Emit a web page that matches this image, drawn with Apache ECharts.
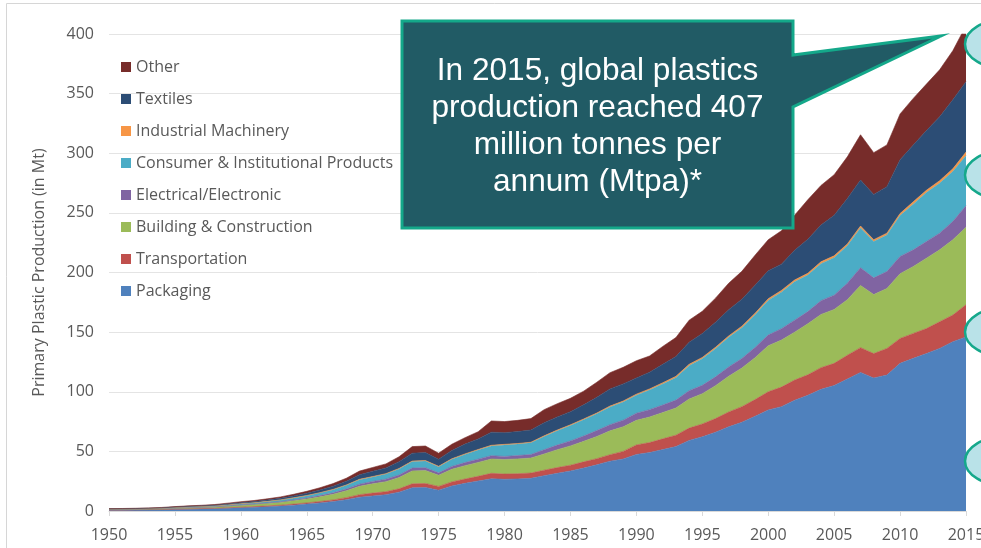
<!DOCTYPE html>
<html>
<head>
<meta charset="utf-8">
<script src="https://cdn.jsdelivr.net/npm/echarts@6/dist/echarts.min.js"></script>
<style>
  html, body { margin: 0; padding: 0; background: #ffffff; }
  #chart { width: 981px; height: 548px; }
</style>
</head>
<body>
<div id="chart"></div>
<script>
// Primary plastic production by industrial use sector, 1950-2015 (Mt)
const years = [
  '1950','1951','1952','1953','1954','1955','1956','1957','1958','1959',
  '1960','1961','1962','1963','1964','1965','1966','1967','1968','1969',
  '1970','1971','1972','1973','1974','1975','1976','1977','1978','1979',
  '1980','1981','1982','1983','1984','1985','1986','1987','1988','1989',
  '1990','1991','1992','1993','1994','1995','1996','1997','1998','1999',
  '2000','2001','2002','2003','2004','2005','2006','2007','2008','2009',
  '2010','2011','2012','2013','2014','2015'
];

const packaging = [
  0.7, 0.7, 0.8, 0.9, 1.0, 1.3, 1.5, 1.7, 1.9, 2.3,
  2.7, 3.1, 3.6, 4.1, 4.9, 5.8, 6.8, 7.9, 9.5, 11.6,
  12.6, 13.7, 15.8, 19.5, 19.7, 17.5, 21.0, 23.2, 25.2, 27.0,
  26.6, 26.9, 27.4, 29.6, 31.6, 33.6, 36.0, 38.7, 41.8, 43.6,
  47.4, 49.0, 51.5, 54.0, 59.2, 62.2, 66.0, 70.6, 74.4, 79.4,
  84.7, 87.5, 92.8, 97.0, 102.0, 105.2, 110.6, 116.2, 111.5, 114.0,
  123.8, 128.0, 132.0, 136.3, 141.9, 146.0
];

const transportation = [
  0.1, 0.1, 0.1, 0.2, 0.2, 0.2, 0.3, 0.3, 0.3, 0.4,
  0.5, 0.6, 0.7, 0.8, 0.9, 1.0, 1.2, 1.4, 1.7, 2.1,
  2.4, 2.5, 2.8, 3.3, 3.4, 3.1, 3.4, 3.6, 3.9, 4.6,
  4.4, 4.4, 4.4, 4.6, 4.8, 4.8, 5.2, 5.2, 5.4, 6.4,
  8.0, 8.4, 9.0, 9.6, 10.3, 10.8, 11.5, 12.4, 13.1, 14.0,
  15.3, 16.4, 17.0, 17.2, 18.2, 18.6, 20.0, 20.8, 20.5, 22.3,
  20.9, 20.9, 21.0, 22.4, 22.4, 27.0
];

const building = [
  0.4, 0.4, 0.4, 0.5, 0.5, 0.7, 0.8, 0.9, 1.0, 1.2,
  1.5, 1.7, 2.0, 2.3, 2.8, 3.3, 3.9, 4.8, 5.8, 7.0,
  7.8, 8.4, 9.4, 10.8, 10.8, 9.4, 10.6, 11.2, 11.6, 12.0,
  12.2, 12.4, 12.6, 13.6, 15.0, 16.2, 17.2, 18.6, 20.0, 20.6,
  20.6, 21.4, 22.0, 22.8, 24.4, 25.4, 27.6, 30.0, 32.4, 35.2,
  38.6, 39.4, 40.2, 42.8, 44.6, 45.2, 46.6, 52.2, 49.5, 50.3,
  54.3, 56.1, 59.0, 60.3, 63.1, 65.0
];

const electrical = [
  0.1, 0.1, 0.1, 0.1, 0.1, 0.2, 0.2, 0.2, 0.3, 0.3,
  0.4, 0.4, 0.5, 0.6, 0.7, 0.8, 1.0, 1.1, 1.4, 1.8,
  2.0, 2.1, 2.2, 2.4, 2.4, 2.0, 2.4, 2.6, 2.8, 2.8,
  2.6, 2.8, 3.0, 3.6, 3.9, 4.2, 4.5, 5.0, 5.2, 5.6,
  6.0, 6.2, 6.4, 6.6, 7.0, 7.0, 7.4, 7.8, 8.0, 8.5,
  9.0, 9.6, 10.0, 10.2, 11.6, 12.0, 13.8, 14.8, 14.0, 14.2,
  14.5, 14.0, 14.0, 14.0, 15.4, 18.0
];

const consumer = [
  0.25, 0.28, 0.32, 0.32, 0.42, 0.46, 0.53, 0.6, 0.67, 0.85,
  0.95, 1.05, 1.2, 1.4, 1.65, 1.95, 2.3, 2.7, 3.2, 3.8,
  3.8, 4.3, 5.1, 5.5, 5.6, 5.1, 6.0, 6.8, 7.6, 8.2,
  9.6, 9.6, 9.8, 11.0, 12.0, 12.8, 13.6, 14.0, 14.8, 15.2,
  15.0, 16.4, 17.6, 18.8, 21.0, 22.3, 23.6, 24.8, 25.8, 27.4,
  29.0, 30.6, 32.2, 30.6, 31.0, 31.4, 31.4, 33.4, 30.4, 30.6,
  34.2, 38.3, 41.0, 41.8, 41.8, 42.0
];

const industrial = [
  0.02, 0.02, 0.02, 0.02, 0.03, 0.04, 0.04, 0.05, 0.05, 0.06,
  0.07, 0.08, 0.09, 0.1, 0.12, 0.14, 0.17, 0.2, 0.23, 0.28,
  0.3, 0.33, 0.4, 0.4, 0.4, 0.4, 0.4, 0.5, 0.5, 0.5,
  0.5, 0.5, 0.5, 0.6, 0.6, 0.7, 0.7, 0.7, 0.8, 0.8,
  1.0, 1.0, 1.0, 1.1, 1.1, 1.1, 1.2, 1.2, 1.3, 1.3,
  1.4, 1.5, 1.5, 1.5, 1.6, 1.6, 1.6, 1.6, 1.6, 1.6,
  1.8, 2.0, 2.0, 2.2, 2.4, 3.0
];

const textiles = [
  0.23, 0.26, 0.3, 0.3, 0.4, 0.44, 0.5, 0.57, 0.64, 0.8,
  0.9, 1.0, 1.14, 1.35, 1.6, 1.9, 2.25, 2.7, 3.1, 3.8,
  4.4, 4.8, 5.7, 6.6, 6.7, 6.0, 7.0, 8.2, 8.8, 11.0,
  9.8, 10.0, 10.2, 11.0, 11.0, 11.0, 11.8, 13.1, 14.4, 14.4,
  13.5, 14.0, 15.5, 16.6, 18.5, 20.0, 21.0, 22.0, 22.6, 23.5,
  23.5, 22.0, 25.0, 28.5, 30.8, 34.0, 38.0, 38.6, 38.0, 39.0,
  45.1, 47.6, 50.0, 53.6, 57.8, 59.0
];

const other = [
  0.2, 0.24, 0.26, 0.26, 0.35, 0.36, 0.43, 0.48, 0.54, 0.69,
  0.78, 0.87, 0.97, 1.15, 1.33, 1.61, 1.88, 2.2, 2.57, 3.12,
  3.2, 3.37, 4.1, 5.5, 5.5, 5.0, 5.2, 5.4, 6.1, 9.4,
  9.3, 9.4, 9.6, 11.0, 11.1, 11.2, 11.5, 12.7, 13.6, 13.9,
  14.5, 13.6, 15.0, 16.0, 18.5, 18.7, 20.2, 22.2, 23.4, 25.2,
  26.0, 28.0, 29.3, 33.2, 33.2, 34.0, 35.0, 37.9, 35.0, 35.0,
  38.4, 39.1, 39.0, 39.4, 41.2, 47.0
];

const yTicks = { min: 0, max: 400, step: 50 };

// Bottom layer first; the legend lists them top-down.
const sectors = [
  { name: 'Packaging', data: packaging, color: '#4F81BD' },
  { name: 'Transportation', data: transportation, color: '#C0504D' },
  { name: 'Building & Construction', data: building, color: '#9BBB59' },
  { name: 'Electrical/Electronic', data: electrical, color: '#8064A2' },
  { name: 'Consumer & Institutional Products', data: consumer, color: '#4BACC6' },
  { name: 'Industrial Machinery', data: industrial, color: '#F79646' },
  { name: 'Textiles', data: textiles, color: '#2C4D75' },
  { name: 'Other', data: other, color: '#772C2A' }
];

const textGrey = '#595959';
const uiFont = 'Open Sans';

const chart = echarts.init(document.getElementById('chart'), null, { renderer: 'canvas' });

chart.setOption({
  animation: false,
  backgroundColor: '#ffffff',
  grid: { left: 109, right: 15, top: 34, bottom: 37, containLabel: false, outerBoundsMode: 'none' },
  legend: {
    orient: 'vertical',
    left: 121,
    top: 59,
    padding: 0,
    icon: 'rect',
    itemWidth: 10,
    itemHeight: 10,
    itemGap: 16,
    itemStyle: { borderWidth: 0 },
    selectedMode: false,
    textStyle: { color: textGrey, fontFamily: uiFont, fontSize: 16, lineHeight: 16 },
    data: sectors.map(s => s.name).reverse()
  },
  xAxis: {
    type: 'category',
    data: years,
    boundaryGap: false,
    axisLine: { lineStyle: { color: '#d9d9d9', width: 1 } },
    axisTick: { show: true, interval: 4, length: 5, lineStyle: { color: '#d9d9d9' } },
    axisLabel: { interval: 4, color: textGrey, fontFamily: uiFont, fontSize: 16, margin: 16, hideOverlap: false },
    splitLine: { show: false }
  },
  yAxis: {
    type: 'value',
    min: yTicks.min,
    max: yTicks.max,
    interval: yTicks.step,
    name: 'Primary Plastic Production (in Mt)',
    nameLocation: 'middle',
    nameGap: 62,
    nameTextStyle: { color: textGrey, fontFamily: uiFont, fontSize: 16 },
    axisLine: { show: false },
    axisTick: { show: false },
    axisLabel: { color: textGrey, fontFamily: uiFont, fontSize: 16, margin: 15 },
    splitLine: { lineStyle: { color: '#e4e4e4', width: 1 } }
  },
  series: sectors.map(s => ({
    name: s.name,
    type: 'line',
    stack: 'total',
    data: s.data,
    color: s.color,
    symbol: 'none',
    showSymbol: false,
    lineStyle: { width: 0.6, color: s.color },
    itemStyle: { color: s.color },
    areaStyle: { color: s.color, opacity: 1 },
    emphasis: { disabled: true },
    silent: true
  })),
  graphic: [
    {
      type: 'rect',
      silent: true,
      z: 0,
      shape: { x: 6.5, y: 3.5, width: 1000, height: 700 },
      style: { fill: 'none', stroke: '#d6d6d6', lineWidth: 1 }
    },
    {
      type: 'polygon',
      silent: true,
      z: 100,
      shape: {
        points: [[402, 21], [793, 21], [793, 55], [941, 36], [793, 107], [793, 228], [402, 228]]
      },
      style: { fill: '#215B65', stroke: '#14A88A', lineWidth: 3, lineJoin: 'miter' }
    },
    {
      type: 'text',
      silent: true,
      z: 101,
      style: {
        text: 'In 2015, global plastics\nproduction reached 407\nmillion tonnes per\nannum (Mtpa)*',
        x: 597.5,
        y: 127,
        align: 'center',
        verticalAlign: 'middle',
        fill: '#ffffff',
        fontFamily: 'Liberation Sans',
        fontSize: 31.6,
        lineHeight: 37
      }
    },
    { type: 'ellipse', silent: true, z: 100, shape: { cx: 1007, cy: 44, rx: 42, ry: 25 },
      style: { fill: '#B9E2E8', stroke: '#15A88B', lineWidth: 2.5 } },
    { type: 'ellipse', silent: true, z: 100, shape: { cx: 1007, cy: 175, rx: 42, ry: 25 },
      style: { fill: '#B9E2E8', stroke: '#15A88B', lineWidth: 2.5 } },
    { type: 'ellipse', silent: true, z: 100, shape: { cx: 1007, cy: 332, rx: 42, ry: 25 },
      style: { fill: '#B9E2E8', stroke: '#15A88B', lineWidth: 2.5 } },
    { type: 'ellipse', silent: true, z: 100, shape: { cx: 1007, cy: 461, rx: 42, ry: 25 },
      style: { fill: '#B9E2E8', stroke: '#15A88B', lineWidth: 2.5 } }
  ]
});
</script>
</body>
</html>
